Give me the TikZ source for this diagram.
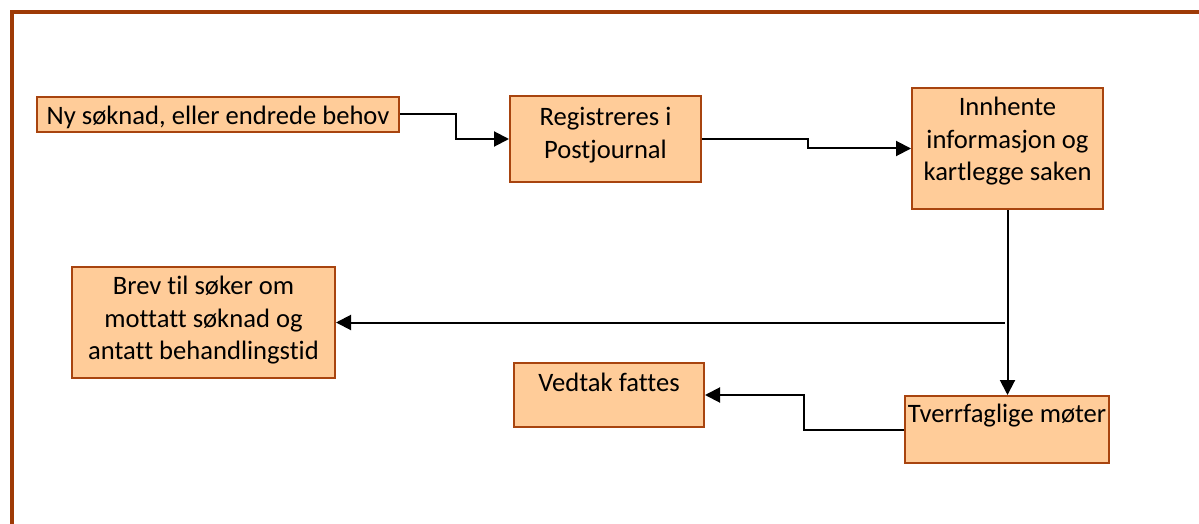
\documentclass[tikz,border=0pt]{standalone}
\usepackage{fontspec}
\setmainfont[Ligatures={NoCommon}]{Carlito}
\usetikzlibrary{arrows.meta}
\definecolor{peach}{HTML}{FFCC99}
\definecolor{rust}{HTML}{A8440F}
\definecolor{frame}{HTML}{9E3A06}

\begin{document}
\begin{tikzpicture}[x=0.5pt,y=-0.5pt,line cap=butt,
    box/.style={draw=rust,fill=peach,line width=1pt,inner sep=0pt},
    txt/.style={anchor=north,inner sep=0pt,align=center,font=\fontsize{13.3}{16.2}\selectfont},
    flow/.style={line width=1pt,-{Triangle[length=7.5pt,width=7.5pt]}}]
    \useasboundingbox (0,0) rectangle (1199,524);
    \draw[frame,line width=2pt] (12,530) -- (12,12) -- (1205,12);
    % boxes
    \node[box,minimum width=181pt,minimum height=17.5pt] (ny) at (218,114.5) {};
    \node[box,minimum width=95.5pt,minimum height=43pt] (reg) at (605.5,139) {};
    \node[box,minimum width=95.5pt,minimum height=60.5pt] (inn) at (1007.5,148.5) {};
    \node[box,minimum width=131.5pt,minimum height=55.5pt] (brev) at (203.5,322.5) {};
    \node[box,minimum width=95pt,minimum height=32pt] (vedtak) at (609,395) {};
    \node[box,minimum width=102pt,minimum height=33.5pt] (tverr) at (1007,429.5) {};
    % texts
    \node[txt] (nyT) at ([yshift=-5pt]ny.north) {Ny søknad, eller endrede behov};
    \node[txt] (regT) at ([yshift=-6pt]reg.north) {Registreres i\\Postjournal};
    \node[txt] (innT) at ([yshift=-5pt]inn.north) {Innhente\\informasjon og\\kartlegge saken};
    \node[txt] (brevT) at ([yshift=-5pt]brev.north) {Brev til søker om\\mottatt søknad og\\antatt behandlingstid};
    \node[txt] (vedtakT) at ([yshift=-5.5pt]vedtak.north) {Vedtak fattes};
    \node[txt] (tverrT) at ([yshift=-4.5pt]tverr.north) {Tverrfaglige møter};
    % connectors
    \draw[flow] (ny.east) -- ++(56,0) |- (reg.west);
    \draw[flow] (reg.east) -- ++(106,0) |- (inn.west);
    \draw[flow] (inn.south) -- (inn.south |- tverr.north);
    \coordinate (split) at ([xshift=-1.5pt]inn.south |- brev.east);
    \draw[flow] (split) -- (brev.east);
    \draw[flow] (tverr.west) -- ++(-100,0) |- (vedtak.east);
\end{tikzpicture}
\end{document}
